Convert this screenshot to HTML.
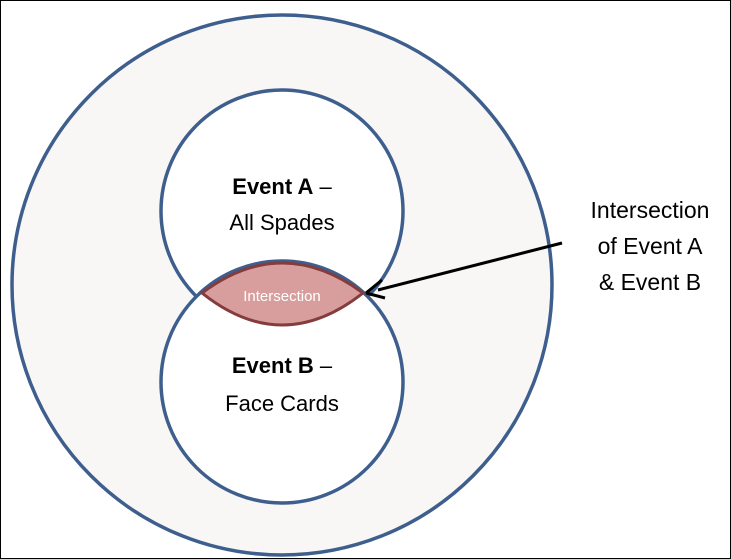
<!DOCTYPE html>
<html><head><meta charset="utf-8"><style>
html,body{margin:0;padding:0;background:#fff}
svg{display:block}
text{font-family:"Liberation Sans",sans-serif}
</style></head><body>
<svg width="731" height="559" viewBox="0 0 731 559" xmlns="http://www.w3.org/2000/svg">
<rect x="0.5" y="0.5" width="730" height="558" fill="#fff" stroke="#000" stroke-width="1"/>
<circle cx="282" cy="285" r="270" fill="#f8f7f5" stroke="#3e5f8e" stroke-width="3.5"/>
<circle cx="282" cy="211" r="121" fill="#fff" stroke="#3e5f8e" stroke-width="3.5"/>
<circle cx="282" cy="382" r="121" fill="#fff" stroke="#3e5f8e" stroke-width="3.5"/>
<path d="M202,293 Q282,233 363,293 Q282,357 202,293 Z" fill="#d89e9e" stroke="#843c3c" stroke-width="3"/>
<text x="282" y="301" font-size="15" fill="#fff" text-anchor="middle">Intersection</text>
<line x1="562" y1="243" x2="378" y2="290" stroke="#000" stroke-width="3"/>
<path d="M366,293 L382,280 M366,293 L385,298" stroke="#000" stroke-width="3" fill="none"/>
<text x="282" y="194" font-size="22" text-anchor="middle"><tspan font-weight="bold">Event A</tspan> –</text>
<text x="282" y="230" font-size="22" text-anchor="middle">All Spades</text>
<text x="282" y="373" font-size="22" text-anchor="middle"><tspan font-weight="bold">Event B</tspan> –</text>
<text x="282" y="411" font-size="22" text-anchor="middle">Face Cards</text>
<text x="650" y="218" font-size="23" text-anchor="middle">Intersection</text>
<text x="650" y="254" font-size="23" text-anchor="middle">of Event A</text>
<text x="650" y="290" font-size="23" text-anchor="middle">&amp; Event B</text>
</svg>
</body></html>
